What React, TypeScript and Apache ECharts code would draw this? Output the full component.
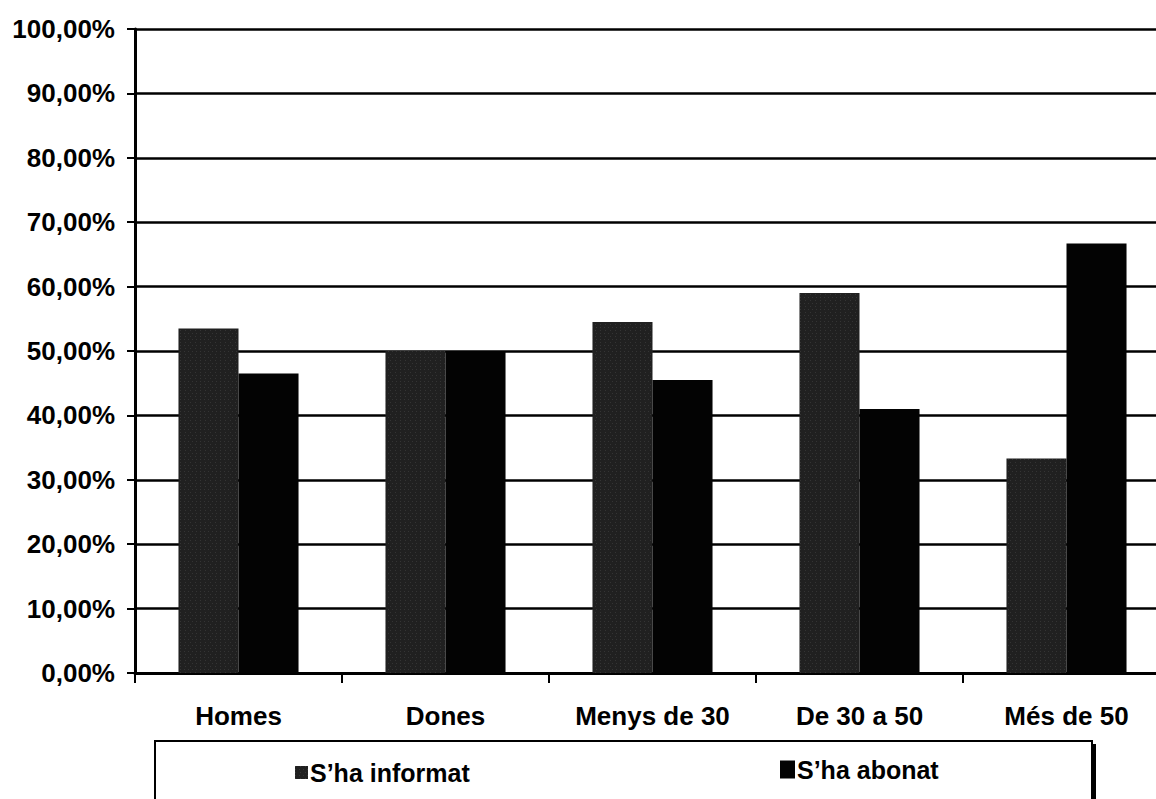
import React, { useEffect, useRef } from "react";
import * as echarts from "echarts";

const categories = ["Homes", "Dones", "Menys de 30", "De 30 a 50", "Més de 50"];
const informat = [53.5, 50, 54.5, 59, 33.3];
const abonat = [46.5, 50, 45.5, 41, 66.7];
const seriesNames = ["S\u2019ha informat", "S\u2019ha abonat"];

const FONT = "'Liberation Sans', Arial, sans-serif";

export default function App() {
  const ref = useRef<HTMLDivElement>(null);
  useEffect(() => {
    if (!ref.current) return;
    const chart = echarts.init(ref.current, null, { renderer: "svg" });
    chart.setOption({
      animation: false,
      backgroundColor: "#ffffff",
      aria: { enabled: true, decal: { show: true } },
      textStyle: { fontFamily: FONT },
      grid: { left: 135, top: 29, bottom: 126, right: 10, containLabel: false },
      legend: [
        {
          data: [seriesNames[0]],
          left: 290,
          top: 755,
          itemWidth: 13,
          itemHeight: 13,
          itemGap: 4,
          icon: "rect",
          textStyle: { fontSize: 25, fontWeight: "bold", color: "#000", fontFamily: FONT, padding: [0, 0, 0, -3] },
        },
        {
          data: [seriesNames[1]],
          left: 775,
          top: 752,
          itemWidth: 15,
          itemHeight: 18,
          icon: "rect",
          textStyle: { fontSize: 25, fontWeight: "bold", color: "#000", fontFamily: FONT, padding: [0, 0, 0, -3] },
        },
      ],
      xAxis: {
        type: "category",
        data: categories,
        axisLine: { show: true, lineStyle: { color: "#000", width: 3 } },
        axisTick: { show: true, length: 10, lineStyle: { color: "#000", width: 2 } },
        axisLabel: { margin: 30, fontSize: 26, fontWeight: "bold", color: "#000", fontFamily: FONT },
        splitLine: { show: false },
      },
      yAxis: {
        type: "value",
        min: 0,
        max: 100,
        interval: 10,
        axisLine: { show: true, lineStyle: { color: "#000", width: 3 } },
        axisTick: { show: true, length: 8, lineStyle: { color: "#000", width: 2 } },
        axisLabel: {
          margin: 20,
          fontSize: 26,
          fontWeight: "bold",
          color: "#000",
          fontFamily: FONT,
          formatter: (v: number) => v.toFixed(2).replace(".", ",") + "%",
        },
        splitLine: { show: true, lineStyle: { color: "#000", width: 2.5 } },
      },
      series: [
        {
          name: seriesNames[0],
          type: "bar",
          data: informat,
          barGap: "0%",
          barCategoryGap: "42%",
          itemStyle: {
            color: "#202020",
            decal: {
              symbol: "rect",
              symbolSize: 0.6,
              color: "rgba(255,255,255,0.3)",
              dashArrayX: [[1, 3], [1, 4]],
              dashArrayY: [1, 2],
              rotation: 0,
            },
          },
        },
        {
          name: seriesNames[1],
          type: "bar",
          data: abonat,
          barGap: "0%",
          barCategoryGap: "42%",
          itemStyle: { color: "#030303", decal: { symbol: "none" } },
        },
      ],
      graphic: [
        {
          type: "rect",
          shape: { x: 158, y: 744, width: 938, height: 60 },
          style: { fill: "#000" },
          silent: true,
          z: -1,
        },
        {
          type: "rect",
          shape: { x: 155, y: 741, width: 937, height: 60 },
          style: { fill: "#fff", stroke: "#000", lineWidth: 2 },
          silent: true,
          z: -1,
        },
      ],
    });
    return () => chart.dispose();
  }, []);
  return (
    <div
      ref={ref}
      style={{ position: "fixed", left: 0, top: 0, width: 1180, height: 799 }}
    />
  );
}
